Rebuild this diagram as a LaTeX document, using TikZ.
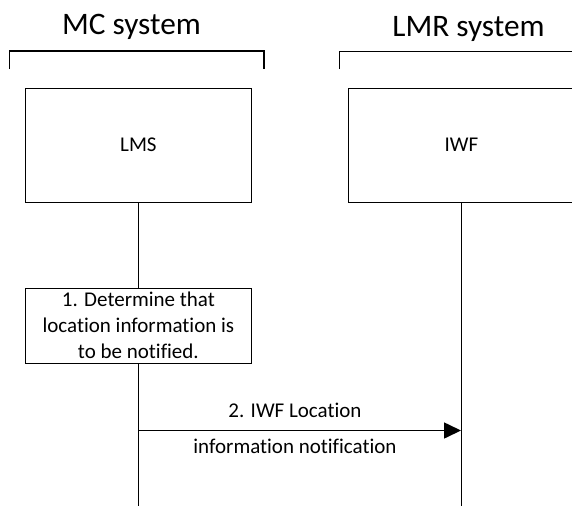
\documentclass[tikz,border=0pt]{standalone}
\usepackage{fontspec}
\setmainfont[Ligatures=NoCommon]{Carlito}
\usetikzlibrary{arrows.meta}
\begin{document}
\begin{tikzpicture}[x=1pt,y=-1pt,
  box/.style={draw, line width=0.8pt, inner sep=0pt, anchor=north west},
  txt/.style={font=\fontsize{21}{26}\selectfont, inner sep=0pt},
  title/.style={font=\fontsize{31.3}{36}\selectfont, inner sep=0pt, anchor=base},
  life/.style={line width=0.8pt},
  bracket/.style={line width=1.4pt},
  msg/.style={line width=1.6pt, -{Triangle[length=17pt,width=16pt]}}]
\useasboundingbox (0,0) rectangle (572,506);
\node[title] (mc) at (131.5,34) {MC system};
\node[title] (lmr) at (468.5,36.5) {LMR system};
\coordinate (mcL) at (9.7,69);
\coordinate (mcTL) at (9.7,51);
\coordinate (mcTR) at (264,51);
\coordinate (mcR) at (264,69);
\coordinate (lmrL) at (339.5,69);
\coordinate (lmrTL) at (339.5,51.5);
\coordinate (lmrR) at (573,51.5);
\draw[bracket] (mcL) -- (mcTL) -- (mcTR) -- (mcR);
\draw[bracket] (lmrL) -- (lmrTL) -- (lmrR);
\node[box, minimum width=226pt, minimum height=114pt] (lms) at (25,87.5) {};
\node[txt] at (lms.center) {LMS};
\node[box, minimum width=226pt, minimum height=114pt] (iwf) at (348,87.5) {};
\node[txt] at (iwf.center) {IWF};
\coordinate (lmsEnd) at (138,506);
\coordinate (iwfEnd) at (461,506);
\node[box, fill=white, minimum width=226pt, minimum height=75pt] (s1) at (25,287.5) {};
\draw[life] (lms.south -| lmsEnd) -- (s1.north -| lmsEnd);
\draw[life] (s1.south -| lmsEnd) -- (lmsEnd);
\draw[life] (iwf.south -| iwfEnd) -- (iwfEnd);
\node[txt, align=center] at (s1.center) {1. Determine that\\location information is\\to be notified.};
\coordinate (a1) at (138,430.5);
\coordinate (a2) at (461,430.5);
\draw[msg] (a1) -- (a2);
\node[txt] (l1) at (295,410) {2. IWF Location};
\node[txt] (l2) at (295,446) {information notification};
\end{tikzpicture}
\end{document}
